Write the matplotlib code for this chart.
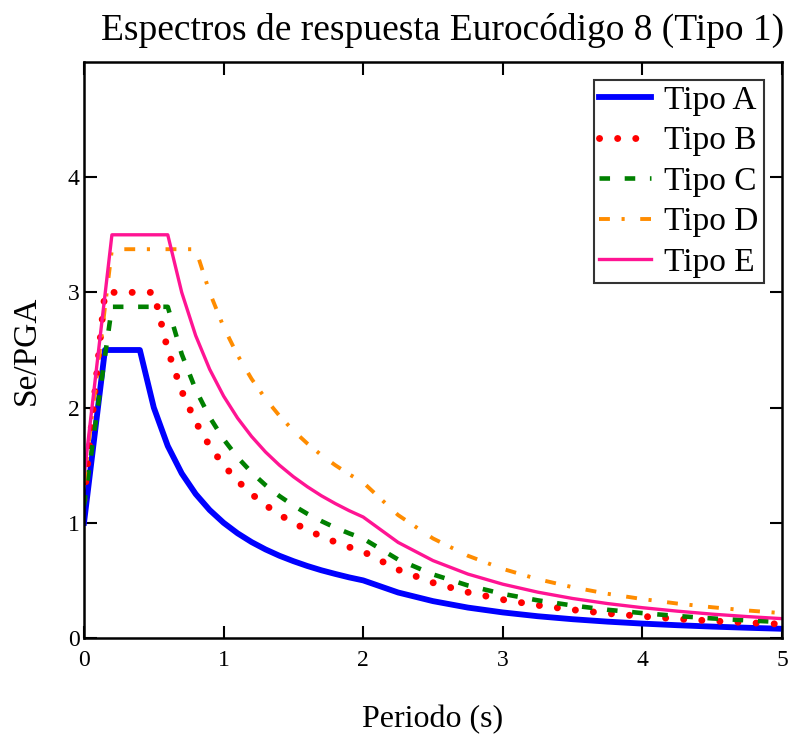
"""
Eurocode 8 (Type 1) response spectra, Se/PGA vs period.
"""

import matplotlib
matplotlib.use("Agg")
import matplotlib.pyplot as plt

# periods (s)
periodo = [0.0, 0.15, 0.2, 0.4, 0.5, 0.6, 0.7, 0.8, 0.9, 1.0,
           1.1, 1.2, 1.3, 1.4, 1.5, 1.6, 1.7, 1.8, 1.9, 2.0,
           2.25, 2.5, 2.75, 3.0, 3.25, 3.5, 3.75, 4.0, 4.25, 4.5, 4.75, 5.0]

# Se/PGA
tipo_a = [1.0, 2.5, 2.5, 2.5, 2.0, 1.667, 1.429, 1.25, 1.111, 1.0,
          0.909, 0.833, 0.769, 0.714, 0.667, 0.625, 0.588, 0.556, 0.526, 0.5,
          0.395, 0.32, 0.264, 0.222, 0.189, 0.163, 0.142, 0.125, 0.111, 0.099, 0.089, 0.08]
tipo_b = [1.2, 3.0, 3.0, 3.0, 3.0, 2.5, 2.143, 1.875, 1.667, 1.5,
          1.364, 1.25, 1.154, 1.071, 1.0, 0.938, 0.882, 0.833, 0.789, 0.75,
          0.593, 0.48, 0.397, 0.333, 0.284, 0.245, 0.213, 0.188, 0.166, 0.148, 0.133, 0.12]
tipo_c = [1.15, 2.444, 2.875, 2.875, 2.875, 2.875, 2.464, 2.156, 1.917, 1.725,
          1.568, 1.438, 1.327, 1.232, 1.15, 1.078, 1.015, 0.958, 0.908, 0.863,
          0.681, 0.552, 0.456, 0.383, 0.327, 0.282, 0.245, 0.216, 0.191, 0.17, 0.153, 0.138]
tipo_d = [1.35, 2.869, 3.375, 3.375, 3.375, 3.375, 3.375, 3.375, 3.0, 2.7,
          2.455, 2.25, 2.077, 1.929, 1.8, 1.688, 1.588, 1.5, 1.421, 1.35,
          1.067, 0.864, 0.714, 0.6, 0.511, 0.441, 0.384, 0.338, 0.299, 0.267, 0.239, 0.216]
tipo_e = [1.4, 2.975, 3.5, 3.5, 3.5, 3.5, 3.0, 2.625, 2.333, 2.1,
          1.909, 1.75, 1.615, 1.5, 1.4, 1.313, 1.235, 1.167, 1.105, 1.05,
          0.83, 0.672, 0.555, 0.467, 0.398, 0.343, 0.299, 0.263, 0.233, 0.207, 0.186, 0.168]

plt.rcParams["font.family"] = ["Liberation Serif", "DejaVu Serif"]

fig = plt.figure(figsize=(7.98, 7.4), dpi=100)
ax = fig.add_axes([84 / 798, 1 - 638 / 740, (782 - 84) / 798, (638 - 62) / 740])

ax.plot(periodo, tipo_a, color="#0000ff", linewidth=4.2, label="Tipo A")
ax.plot(periodo, tipo_b, color="#ff0000", linewidth=5.0, linestyle=(0, (0.01, 2.6)),
        dash_capstyle="round", label="Tipo B")
ax.plot(periodo, tipo_c, color="#008000", linewidth=3.3, linestyle=(0, (2.3, 3.2)),
        label="Tipo C")
ax.plot(periodo, tipo_d, color="#ff8c00", linewidth=2.8, linestyle=(0, (2.8, 3.0, 0.8, 4.0)),
        label="Tipo D")
ax.plot(periodo, tipo_e, color="#ff1493", linewidth=2.4, label="Tipo E")

ax.set_xlim(0, 5)
ax.set_ylim(0, 5)
ax.set_xticks([0, 1, 2, 3, 4, 5])
ax.set_yticks([0, 1, 2, 3, 4])
ax.tick_params(direction="in", length=9, width=1.5, top=True, right=True,
               labelsize=17, pad=9)
ax.tick_params(axis="y", pad=3)
for s in ax.spines.values():
    s.set_linewidth(1.8)

ax.set_title("Espectros de respuesta Eurocódigo 8 (Tipo 1)", fontsize=27, pad=16, x=0.513)
ax.set_xlabel("Periodo (s)", fontsize=23, labelpad=24)
ax.set_ylabel("Se/PGA", fontsize=24, labelpad=19)

leg = ax.legend(loc="upper right", fontsize=24, frameon=True, fancybox=False,
                handlelength=1.55, borderaxespad=0.55, labelspacing=0.3,
                handletextpad=0.4, borderpad=0.15)
leg.get_frame().set_edgecolor("black")
leg.get_frame().set_linewidth(1.5)

plt.savefig("out.png", dpi=100)
plt.close()
